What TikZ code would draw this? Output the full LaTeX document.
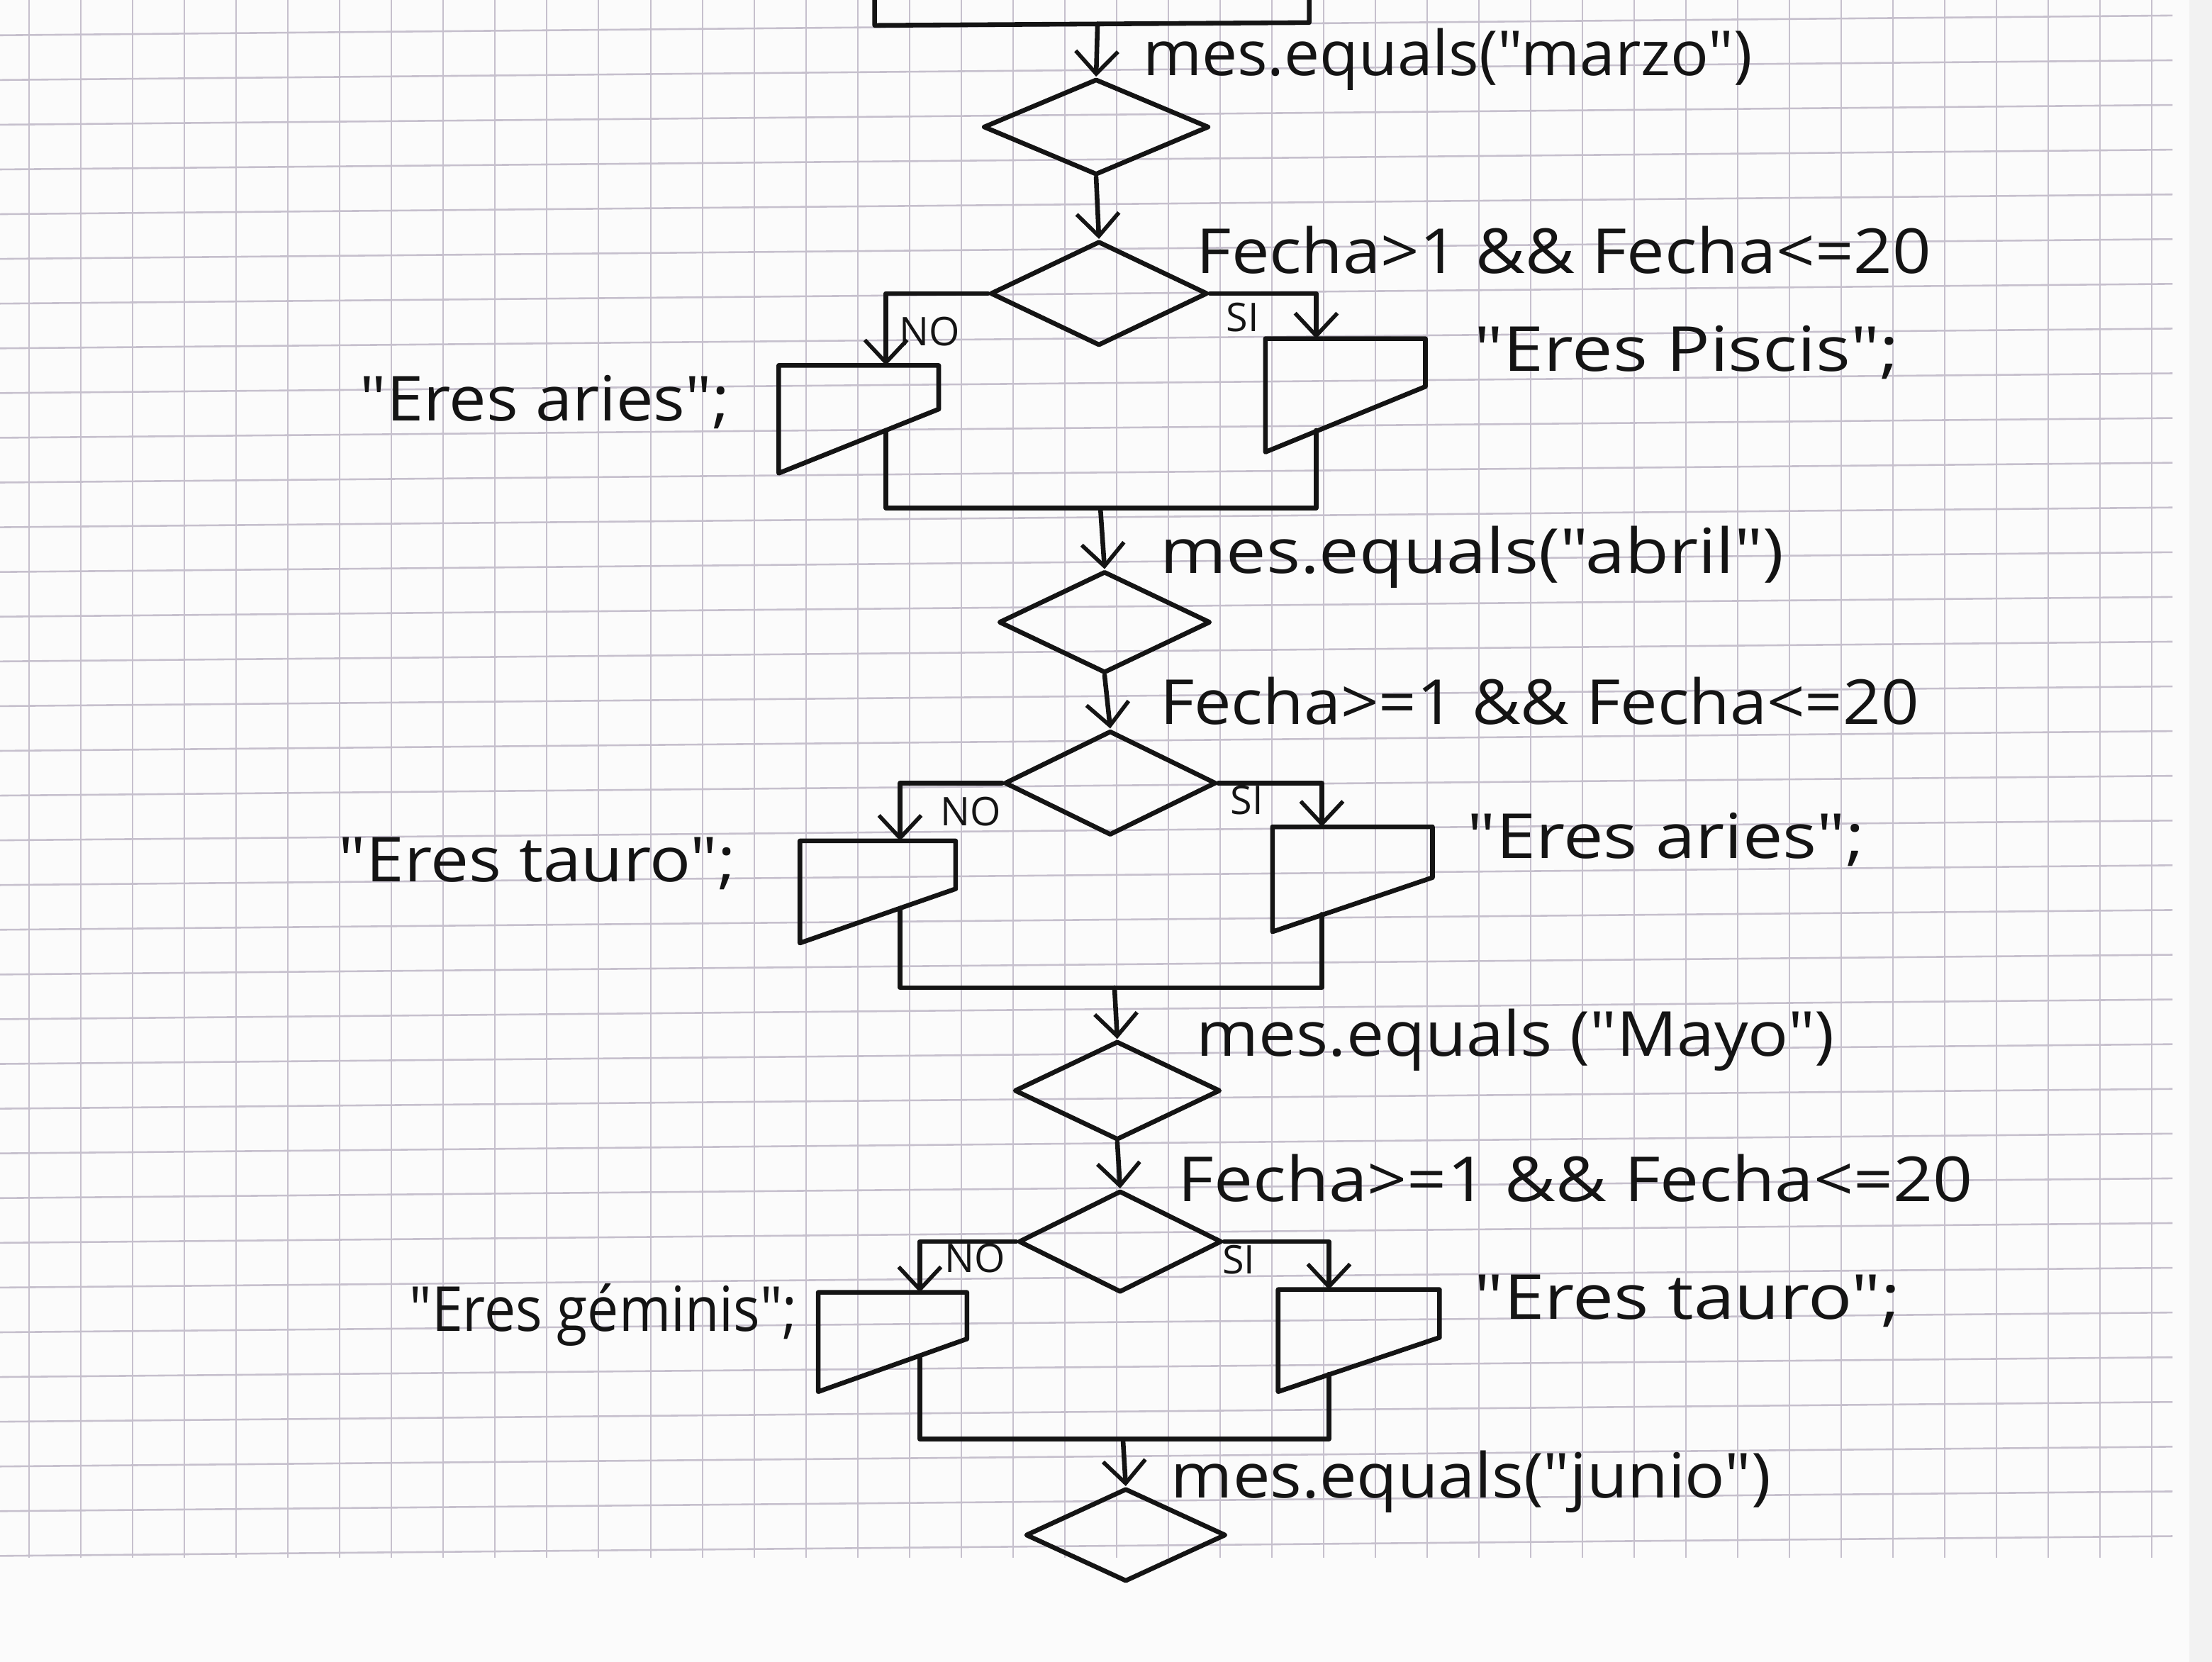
\documentclass[tikz,border=0pt]{standalone}
\usepackage{fontspec}
\usepackage{graphicx}
\setmainfont[Ligatures=TeXOff]{Open Sans}
\usetikzlibrary{shapes.geometric,arrows.meta,calc}
\definecolor{paper}{RGB}{251,251,251}
\definecolor{gridc}{RGB}{198,192,205}
\definecolor{ink}{RGB}{20,20,20}
\newcommand\iodraw[2]{\draw[stroke] (#1.north west) -- (#1.north east) -- ($(#1.north east)+(0,#2)$) -- (#1.south west) -- cycle;}
\newcommand\sx[2]{\scalebox{#1}[1]{#2}}
\begin{document}
\begin{tikzpicture}[x=1pt,y=-1pt,
  stroke/.style={line width=3.3pt, draw=ink, line join=round, line cap=round},
  flow/.style={stroke, -{Straight Barb[length=16pt,width=30pt,line width=2.8pt]}},
  dec/.style={diamond, draw=ink, line width=3.3pt, inner sep=0pt, line join=round},
  iobox/.style={rectangle, draw=none, inner sep=0pt, anchor=north west},
  lab/.style={anchor=west, inner sep=0pt, text=ink, font=\fontsize{44}{48}\selectfont},
  tiny/.style={inner sep=0pt, text=ink, font=\fontsize{28}{30}\selectfont}]
\useasboundingbox (0,0) rectangle (1568,1178);
\fill[paper] (0,0) rectangle (1568,1178);
% grid paper
\foreach \i in {0,...,41} {\draw[gridc, line width=1pt] ({20.7+36.7*\i},0) -- ({20.7+36.7*\i},1104);}
\foreach \k in {0,...,34} {\draw[gridc, line width=1.3pt] (0,{18+31.7*\k+7}) -- (1540,{18+31.7*\k-7});}
\fill[gray!10] (1552,0) rectangle (1568,1178);

% ---------- marzo ----------
\coordinate (t0) at (778,17);
\draw[stroke] (620,0) -- (620,18) -- (928,16) -- (928,0);
\node[dec, minimum width=160pt, minimum height=68pt] (d1) at (777,90) {};
\node[lab] (L1) at (810,42) {\sx{1.02}{mes.equals("marzo")}};
\draw[flow] (t0) -- (d1.north);
\node[dec, minimum width=154pt, minimum height=74pt] (d2) at (779,208) {};
\node[lab] (L2) at (848,177) {\sx{1.09}{Fecha>1 \&\& Fecha<=20}};
\draw[flow] (d1.south) -- (d2.north);
\node[iobox, minimum width=113pt, minimum height=80pt] (r1) at (897,240) {};
\iodraw{r1}{34}
\node[iobox, minimum width=113pt, minimum height=76pt] (l1) at (552,259) {};
\iodraw{l1}{31}
\coordinate (r1a) at (933,240);
\coordinate (l1a) at (628,259);
\draw[flow] (d2.east) -| (r1a);
\draw[flow] (d2.west) -| (l1a);
\node[tiny] (s1) at (881,225) {SI};
\node[tiny] (n1) at (659,235) {NO};
\node[lab] (L3) at (1045,250) {\sx{1.17}{"Eres Piscis";}};
\node[lab] (L4) at (255,285) {\sx{1.07}{"Eres aries";}};
\coordinate (r1o) at (933,305);
\coordinate (l1o) at (628,305);
\coordinate (mg1) at (780,360);
\draw[stroke] (l1o) -- (l1o |- mg1) -- (r1o |- mg1) -- (r1o);

% ---------- abril ----------
\node[dec, minimum width=150pt, minimum height=72pt] (d3) at (783,441) {};
\node[lab] (L5) at (822,395) {\sx{1.15}{mes.equals("abril")}};
\draw[flow] (mg1) -- (d3.north);
\node[dec, minimum width=150pt, minimum height=74pt] (d4) at (787,555) {};
\node[lab] (L6) at (822,497) {\sx{1.07}{Fecha>=1 \&\& Fecha<=20}};
\draw[flow] (d3.south) -- (d4.north);
\node[iobox, minimum width=113pt, minimum height=74pt] (r2) at (902,586) {};
\iodraw{r2}{36}
\node[iobox, minimum width=110pt, minimum height=72pt] (l2) at (567,596) {};
\iodraw{l2}{34}
\coordinate (r2a) at (937,586);
\coordinate (l2a) at (638,596);
\draw[flow] (d4.east) -| (r2a);
\draw[flow] (d4.west) -| (l2a);
\node[tiny] (s2) at (884,567) {SI};
\node[tiny] (n2) at (688,575) {NO};
\node[lab] (L7) at (1040,595) {\sx{1.15}{"Eres aries";}};
\node[lab] (L8) at (240,612) {\sx{1.10}{"Eres tauro";}};
\coordinate (r2o) at (937,648);
\coordinate (l2o) at (638,644);
\coordinate (mg2) at (790,700);
\draw[stroke] (l2o) -- (l2o |- mg2) -- (r2o |- mg2) -- (r2o);

% ---------- Mayo ----------
\node[dec, minimum width=146pt, minimum height=70pt] (d5) at (792,773) {};
\node[lab] (L9) at (848,737) {\sx{1.08}{mes.equals ("Mayo")}};
\draw[flow] (mg2) -- (d5.north);
\node[dec, minimum width=144pt, minimum height=72pt] (d6) at (794,880) {};
\node[lab] (L10) at (835,835) {\sx{1.12}{Fecha>=1 \&\& Fecha<=20}};
\draw[flow] (d5.south) -- (d6.north);
\node[iobox, minimum width=114pt, minimum height=72pt] (r3) at (906,914) {};
\iodraw{r3}{34}
\node[iobox, minimum width=105pt, minimum height=70pt] (l3) at (580,916) {};
\iodraw{l3}{33}
\coordinate (r3a) at (942,914);
\coordinate (l3a) at (652,916);
\draw[flow] (d6.east) -| (r3a);
\draw[flow] (d6.west) -| (l3a);
\node[tiny] (s3) at (878,893) {SI};
\node[tiny] (n3) at (691,892) {NO};
\node[lab] (L11) at (1045,922) {\sx{1.18}{"Eres tauro";}};
\node[lab] (L12) at (290,932) {\sx{0.90}{"Eres géminis";}};
\coordinate (r3o) at (942,974);
\coordinate (l3o) at (652,961);
\coordinate (mg3) at (796,1020);
\draw[stroke] (l3o) -- (l3o |- mg3) -- (r3o |- mg3) -- (r3o);

% ---------- junio ----------
\node[dec, minimum width=142pt, minimum height=66pt] (d7) at (798,1088) {};
\node[lab] (L13) at (830,1050) {\sx{1.07}{mes.equals("junio")}};
\draw[flow] (mg3) -- (d7.north);
\end{tikzpicture}
\end{document}
